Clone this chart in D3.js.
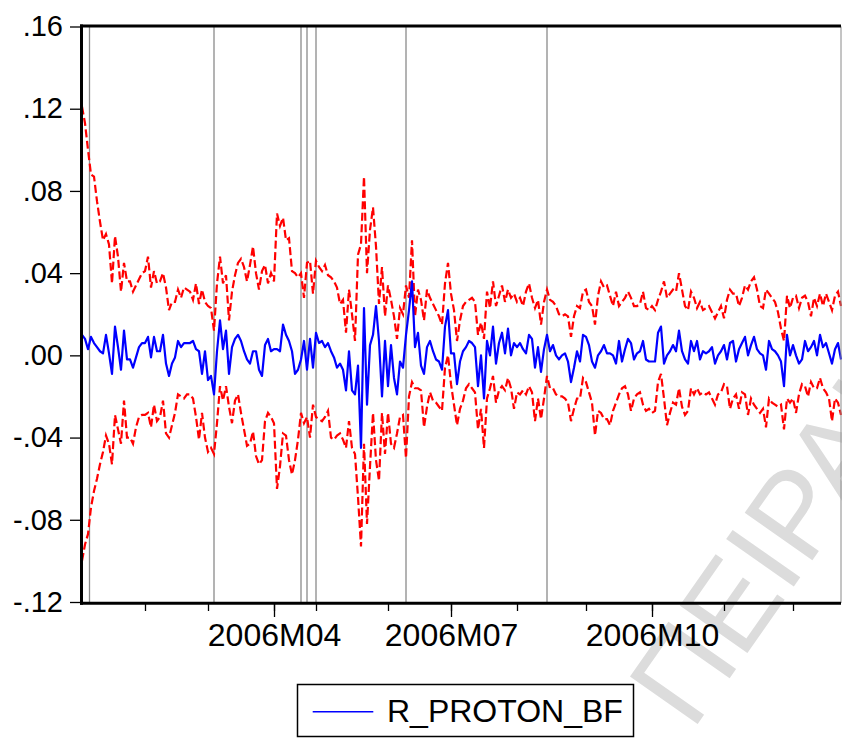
<!DOCTYPE html>
<html>
<head>
<meta charset="utf-8">
<script src="https://cdn.jsdelivr.net/npm/d3@7"></script>
<style>
body { margin: 0; background: #fff; }
svg text { font-family: Arial, "Liberation Sans", Helvetica, sans-serif; fill: #000; }
</style>
</head>
<body>
<svg id="chart" width="842" height="738"></svg>
<script>
// recursive residuals, one value per observation (2006, daily)
var resid = [
  .010,.008,.003,.009,.006,.004,.002,.001,.010,.001,
  -.009,.014,.004,-.007,.012,-.002,-.002,-.006,-.001,.004,
  .006,.006,.009,-.001,.009,.002,.002,.010,-.004,-.010,
  -.004,-.001,.007,.004,.006,.006,.006,.007,.003,.002,
  -.009,.002,-.012,-.010,-.019,.002,.017,.003,.012,-.009,
  .004,.008,.010,.007,.002,-.002,-.004,.002,.002,-.007,
  -.010,.005,.008,.002,.003,.003,.002,.015,.010,.007,
  .002,-.009,-.007,-.002,.007,-.007,.008,-.006,.011,.006,
  .007,.004,.006,.002,-.001,-.006,-.004,-.007,-.017,.002,
  -.017,-.019,-.005,-.045,.023,-.024,.005,.010,.024,.007,
  -.020,.007,-.015,.005,-.011,-.019,-.003,-.006,.010,.022,
  .036,.004,.011,-.005,-.009,.004,.007,.002,-.002,-.003,
  -.007,.014,.022,.001,.001,-.014,-.003,.002,.004,.007,
  .006,.004,-.015,.000,-.021,.007,.000,.014,-.004,.006,
  .011,.001,.013,.000,.006,.004,.006,.003,.001,.010,
  .008,-.006,.004,-.008,.003,.010,.002,.005,.000,-.002,
  .000,.001,-.003,-.013,-.006,.002,-.003,.010,.009,.005,
  -.003,-.006,.000,.002,.005,.001,.001,.000,-.004,.007,
  -.003,.003,.008,.006,-.002,.001,.002,.007,-.002,-.003,
  -.003,-.003,.011,.014,-.004,.000,.002,.005,.002,.012,
  .002,-.002,-.004,.007,.002,.007,-.002,.002,.001,.002,
  .004,-.004,.000,.002,.005,-.002,.006,.007,-.003,.003,
  .006,.009,.000,.005,.009,.003,.001,.000,-.007,.007,
  .003,.002,.000,-.003,-.015,.010,.000,.005,.000,-.004,
  -.002,.007,.002,.004,.007,.000,.010,.004,.006,.001,
  -.004,.003,.006,-.002
];
// +2 S.E. band
var upper = [
  .121,.113,.100,.088,.087,.075,.065,.056,.059,.054,
  .035,.058,.048,.031,.045,.036,.036,.031,.034,.037,
  .040,.041,.048,.033,.041,.035,.036,.040,.033,.022,
  .026,.026,.032,.028,.033,.032,.031,.027,.035,.025,
  .032,.026,.024,.023,.012,.035,.048,.035,.039,.017,
  .031,.039,.045,.047,.043,.036,.044,.053,.040,.032,
  .041,.044,.035,.040,.036,.069,.063,.067,.056,.057,
  .041,.040,.038,.040,.028,.045,.046,.030,.046,.043,
  .041,.044,.039,.038,.036,.033,.025,.027,.011,.032,
  .020,.007,.049,.054,.087,.040,.061,.072,.053,.025,
  .043,.019,.034,.027,.019,.008,.023,.020,.034,.028,
  .056,.019,.032,.027,.017,.032,.028,.025,.022,.019,
  .015,.035,.045,.030,.022,.007,.017,.024,.026,.027,
  .028,.026,.010,.016,.008,.031,.023,.036,.024,.029,
  .034,.026,.032,.028,.030,.026,.028,.024,.031,.035,
  .028,.023,.027,.015,.026,.032,.027,.026,.024,.020,
  .019,.020,.019,.009,.019,.024,.023,.031,.032,.026,
  .024,.015,.029,.036,.033,.034,.029,.024,.031,.024,
  .026,.028,.031,.028,.024,.024,.025,.031,.023,.022,
  .024,.022,.027,.031,.036,.028,.030,.032,.031,.040,
  .032,.024,.022,.031,.028,.023,.026,.022,.023,.024,
  .021,.018,.021,.024,.018,.027,.032,.030,.030,.024,
  .028,.034,.032,.036,.038,.032,.024,.023,.032,.030,
  .028,.026,.021,.013,.007,.029,.023,.028,.029,.023,
  .028,.029,.026,.019,.028,.024,.030,.024,.030,.026,
  .022,.029,.031,.024
];
// -2 S.E. band
var lower = [
  -.100,-.092,-.087,-.074,-.066,-.060,-.053,-.047,-.039,-.043,
  -.053,-.029,-.036,-.043,-.022,-.040,-.040,-.043,-.035,-.030,
  -.029,-.029,-.028,-.035,-.024,-.032,-.030,-.022,-.038,-.040,
  -.034,-.028,-.019,-.020,-.021,-.019,-.019,-.021,-.030,-.041,
  -.028,-.040,-.047,-.045,-.048,-.033,-.015,-.022,-.015,-.025,
  -.033,-.022,-.019,-.028,-.036,-.044,-.043,-.037,-.049,-.053,
  -.051,-.032,-.028,-.030,-.033,-.065,-.054,-.038,-.039,-.051,
  -.058,-.051,-.041,-.028,-.033,-.030,-.040,-.024,-.030,-.031,
  -.032,-.030,-.027,-.040,-.041,-.039,-.038,-.041,-.045,-.032,
  -.045,-.048,-.069,-.093,-.043,-.082,-.054,-.028,-.051,-.061,
  -.028,-.048,-.028,-.043,-.045,-.038,-.030,-.029,-.050,-.020,
  -.013,-.016,-.016,-.017,-.035,-.025,-.018,-.022,-.023,-.025,
  -.027,-.006,.000,-.014,-.024,-.034,-.026,-.022,-.016,-.014,
  -.016,-.018,-.036,-.026,-.045,-.021,-.016,-.010,-.023,-.017,
  -.015,-.017,-.011,-.016,-.026,-.018,-.019,-.017,-.019,-.015,
  -.018,-.032,-.021,-.031,-.021,-.010,-.016,-.016,-.019,-.020,
  -.020,-.021,-.023,-.032,-.026,-.021,-.021,-.011,-.013,-.018,
  -.023,-.039,-.027,-.028,-.031,-.031,-.034,-.027,-.023,-.019,
  -.016,-.015,-.019,-.027,-.021,-.019,-.018,-.024,-.027,-.026,
  -.028,-.027,-.013,-.009,-.021,-.034,-.028,-.023,-.024,-.016,
  -.025,-.029,-.027,-.016,-.019,-.016,-.019,-.018,-.019,-.018,
  -.021,-.024,-.019,-.018,-.014,-.015,-.026,-.021,-.019,-.026,
  -.018,-.019,-.029,-.021,-.024,-.026,-.028,-.026,-.035,-.021,
  -.023,-.024,-.025,-.024,-.036,-.021,-.023,-.021,-.028,-.019,
  -.014,-.015,-.020,-.013,-.016,-.016,-.011,-.016,-.018,-.021,
  -.032,-.021,-.023,-.029
];

var yTicks = [-0.12, -0.08, -0.04, 0, 0.04, 0.08, 0.12, 0.16];
// month starts (observation number) and the labelled quarters
var monthObs = [21, 42, 64, 78, 102, 123, 145, 168, 190, 214, 237];
var quarterObs = [64, 123, 190];
var quarterLabels = ["2006M04", "2006M07", "2006M10"];
// break dates marked with grey lines
var breakObs = [2.5, 44, 73, 75, 78, 108, 155];
var seriesName = "R_PROTON_BF";
var watermark = "ΠΕΙΡΑΙΩΣ";

var svg = d3.select("#chart");
var plotLeft = 82, plotRight = 841, plotTop = 26.5, plotBottom = 602;

var x = d3.scaleLinear().domain([0, resid.length - 1]).range([plotLeft, plotRight]);
var y = d3.scaleLinear().domain([-0.12, 0.16]).range([plotBottom, plotTop]);

// faint watermark behind everything
svg.append("text")
  .attr("transform", "translate(692,732) rotate(-55)")
  .attr("font-size", "120px")
  .style("fill", "#dcdcdc")
  .text(watermark);

// grey break lines
svg.append("g").selectAll("line")
  .data(breakObs)
  .enter().append("line")
  .attr("x1", d => x(d)).attr("x2", d => x(d))
  .attr("y1", plotTop).attr("y2", plotBottom)
  .attr("stroke", "#8a8a8a")
  .attr("stroke-width", 1.3);

var line = d3.line().x((d, i) => x(i)).y(d => y(d));

svg.append("g").selectAll("path")
  .data([upper, lower])
  .enter().append("path")
  .attr("fill", "none")
  .attr("stroke", "#ff0000")
  .attr("stroke-width", 2.2)
  .attr("stroke-dasharray", "8,3.5")
  .attr("d", line);

svg.append("path")
  .datum(resid)
  .attr("fill", "none")
  .attr("stroke", "#0000ff")
  .attr("stroke-width", 2.2)
  .attr("stroke-linejoin", "round")
  .attr("d", line);

// y axis, EViews style labels (.04, -.08)
var fmt = d => (d < 0 ? "-" : "") + Math.abs(d).toFixed(2).replace(/^0/, "");
var yAxis = svg.append("g")
  .attr("transform", "translate(" + plotLeft + ",0)")
  .call(d3.axisLeft(y).tickValues(yTicks).tickSize(12).tickPadding(7).tickFormat(fmt));
yAxis.select(".domain").remove();
yAxis.selectAll(".tick line").attr("stroke", "#000").attr("stroke-width", 1.3);
yAxis.selectAll(".tick text").attr("font-size", "29px").attr("font-family", null);

// x axis: month ticks + longer quarter ticks with labels
var xMinor = svg.append("g")
  .attr("transform", "translate(0," + 603 + ")")
  .call(d3.axisBottom(x).tickValues(monthObs).tickSize(8).tickFormat(""));
xMinor.select(".domain").remove();
xMinor.selectAll(".tick line").attr("stroke", "#000").attr("stroke-width", 1.3);

var xMajor = svg.append("g")
  .attr("transform", "translate(0," + 603 + ")")
  .call(d3.axisBottom(x).tickValues(quarterObs).tickSize(14).tickPadding(6)
    .tickFormat((d, i) => quarterLabels[i]));
xMajor.select(".domain").remove();
xMajor.selectAll(".tick line").attr("stroke", "#000").attr("stroke-width", 1.3);
xMajor.selectAll(".tick text").attr("font-size", "32px").attr("font-family", null);

// frame
svg.append("line").attr("x1", plotRight).attr("x2", plotRight)
  .attr("y1", plotTop).attr("y2", 603).attr("stroke", "#8a8a8a").attr("stroke-width", 1);
svg.append("line").attr("x1", 80).attr("x2", plotRight)
  .attr("y1", 26).attr("y2", 26).attr("stroke", "#000").attr("stroke-width", 3);
svg.append("line").attr("x1", 80).attr("x2", plotRight)
  .attr("y1", 603.3).attr("y2", 603.3).attr("stroke", "#000").attr("stroke-width", 3);
svg.append("line").attr("x1", 81.5).attr("x2", 81.5)
  .attr("y1", 24.5).attr("y2", 604.8).attr("stroke", "#000").attr("stroke-width", 3);

// legend
var legend = svg.append("g");
legend.append("rect")
  .attr("x", 297.5).attr("y", 684.5).attr("width", 336).attr("height", 52)
  .attr("fill", "none").attr("stroke", "#000").attr("stroke-width", 1.5);
legend.append("line")
  .attr("x1", 312.7).attr("x2", 373.3).attr("y1", 711.7).attr("y2", 711.7)
  .attr("stroke", "#0000ff").attr("stroke-width", 1.5);
legend.append("text")
  .attr("x", 387).attr("y", 722).attr("font-size", "32px")
  .text(seriesName);
</script>
</body>
</html>
